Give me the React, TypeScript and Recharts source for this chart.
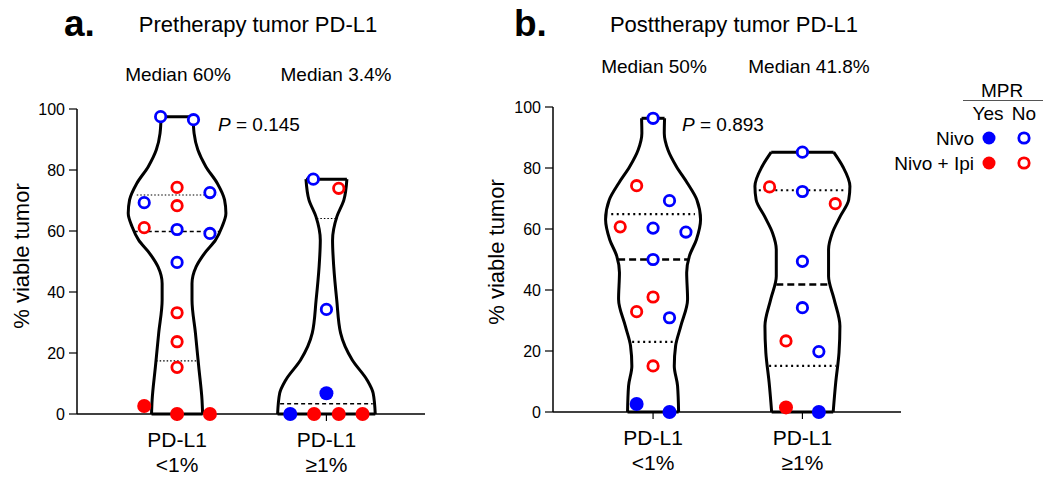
import React from 'react';
import { ComposedChart, XAxis, YAxis, Line, Scatter, ReferenceLine } from 'recharts';

const BLUE = '#0000ff';
const RED = '#ff0000';
const FONT = '"Liberation Sans", Arial, Helvetica, sans-serif';

const categoryLines = [
  ['PD-L1', '<1%'],
  ['PD-L1', '\u22651%'],
];

// ---- patient points (value, jitter lane, arm, MPR) ----
const preLowValues = [97.5, 96.5, 74.3, 72.6, 69.3, 68.3, 61.1, 60.5, 59.2, 49.7, 33.2, 23.7, 15.3, 2.6, 0, 0];
const preLowLanes = [-1, 1, 0, 2, -2, 0, -2, 0, 2, 0, 0, 0, 0, -2, 0, 2];
const preLowArms = ['Nivo', 'Nivo', 'Nivo + Ipi', 'Nivo', 'Nivo', 'Nivo + Ipi', 'Nivo + Ipi', 'Nivo', 'Nivo', 'Nivo', 'Nivo + Ipi', 'Nivo + Ipi', 'Nivo + Ipi', 'Nivo + Ipi', 'Nivo + Ipi', 'Nivo + Ipi'];
const preLowMpr = [false, false, false, false, false, false, false, false, false, false, false, false, false, true, true, true];

const preHighValues = [77.0, 74.0, 34.3, 6.8, 0, 0, 0, 0];
const preHighLanes = [-0.8, 0.75, 0, 0, -2.2, -0.75, 0.75, 2.2];
const preHighArms = ['Nivo', 'Nivo + Ipi', 'Nivo', 'Nivo', 'Nivo', 'Nivo + Ipi', 'Nivo + Ipi', 'Nivo + Ipi'];
const preHighMpr = [false, false, false, true, true, true, true, true];

const postLowValues = [96.3, 74.2, 69.3, 60.7, 60.3, 59.0, 50.0, 37.7, 32.9, 30.9, 15.1, 2.6, 0];
const postLowLanes = [0, -1, 1, -2, 0, 2, 0, 0, -1, 1, 0, -1, 1];
const postLowArms = ['Nivo', 'Nivo + Ipi', 'Nivo', 'Nivo + Ipi', 'Nivo', 'Nivo', 'Nivo', 'Nivo + Ipi', 'Nivo + Ipi', 'Nivo', 'Nivo + Ipi', 'Nivo', 'Nivo'];
const postLowMpr = [false, false, false, false, false, false, false, false, false, false, false, true, true];

const postHighValues = [85.2, 73.8, 72.3, 68.3, 49.4, 34.2, 23.3, 19.8, 1.5, 0];
const postHighLanes = [0, -2, 0, 2, 0, 0, -1, 1, -1, 1];
const postHighArms = ['Nivo', 'Nivo + Ipi', 'Nivo', 'Nivo + Ipi', 'Nivo', 'Nivo', 'Nivo + Ipi', 'Nivo', 'Nivo + Ipi', 'Nivo'];
const postHighMpr = [false, false, false, false, false, false, false, false, true, true];

// ---- violin outlines (level -> half width in category units) ----
const preLowLevels = [0, 4.6, 15.5, 26.5, 37.4, 42.8, 48.3, 52.7, 57.0, 61.4, 65.8, 70.2, 75.6, 81.1, 86.6, 92.0, 97.5];
const preLowWidths = [0.171, 0.167, 0.145, 0.123, 0.1, 0.1, 0.128, 0.184, 0.257, 0.301, 0.327, 0.318, 0.27, 0.193, 0.139, 0.114, 0.107];
const preHighLevels = [0, 6.8, 11.1, 17.7, 26.5, 37.4, 48.3, 57.0, 64.7, 70.2, 77.0];
const preHighWidths = [0.327, 0.313, 0.273, 0.173, 0.095, 0.069, 0.049, 0.041, 0.07, 0.117, 0.137];
const postLowLevels = [0, 8.6, 15.1, 21.7, 28.2, 37.0, 45.7, 51.1, 56.5, 63.1, 69.6, 75.1, 80.5, 85.9, 91.4, 96.3];
const postLowWidths = [0.171, 0.164, 0.142, 0.151, 0.186, 0.231, 0.225, 0.243, 0.29, 0.318, 0.293, 0.229, 0.156, 0.1, 0.075, 0.077];
const postHighLevels = [0, 9.7, 19.5, 28.2, 37.0, 44.5, 53.3, 58.7, 64.2, 69.6, 74.0, 80.5, 85.2];
const postHighWidths = [0.206, 0.223, 0.245, 0.251, 0.212, 0.175, 0.175, 0.2, 0.254, 0.31, 0.318, 0.27, 0.209];

// quartiles [Q1, median, Q3] and their half widths
const preLowQuartiles = [17.4, 59.85, 71.8];
const preLowQuartileWidths = [0.14, 0.29, 0.27];
const preHighQuartiles = [0, 3.4, 64.1];
const preHighQuartileWidths = [0.327, 0.31, 0.064];
const postLowQuartiles = [23.0, 50.0, 64.9];
const postLowQuartileWidths = [0.14, 0.234, 0.28];
const postHighQuartiles = [15.1, 41.8, 72.7];
const postHighQuartileWidths = [0.223, 0.175, 0.292];

const LANE = 0.11;

type Violin = {
  center: number;
  values: number[];
  lanes: number[];
  arms: string[];
  mpr: boolean[];
  levels: number[];
  widths: number[];
  quartiles: number[];
  quartileWidths: number[];
};

const preViolins: Violin[] = [
  { center: 1, values: preLowValues, lanes: preLowLanes, arms: preLowArms, mpr: preLowMpr, levels: preLowLevels, widths: preLowWidths, quartiles: preLowQuartiles, quartileWidths: preLowQuartileWidths },
  { center: 2, values: preHighValues, lanes: preHighLanes, arms: preHighArms, mpr: preHighMpr, levels: preHighLevels, widths: preHighWidths, quartiles: preHighQuartiles, quartileWidths: preHighQuartileWidths },
];
const postViolins: Violin[] = [
  { center: 1, values: postLowValues, lanes: postLowLanes, arms: postLowArms, mpr: postLowMpr, levels: postLowLevels, widths: postLowWidths, quartiles: postLowQuartiles, quartileWidths: postLowQuartileWidths },
  { center: 2, values: postHighValues, lanes: postHighLanes, arms: postHighArms, mpr: postHighMpr, levels: postHighLevels, widths: postHighWidths, quartiles: postHighQuartiles, quartileWidths: postHighQuartileWidths },
];

const pointsFor = (violins: Violin[], arm: string, mpr: boolean) =>
  violins.flatMap((v) =>
    v.values
      .map((y, i) => ({ x: v.center + v.lanes[i] * LANE, y, arm: v.arms[i], mpr: v.mpr[i] }))
      .filter((p) => p.arm === arm && p.mpr === mpr)
  );

const filledDot = (color: string) => (p: any) => <circle cx={p.cx} cy={p.cy} r={7} fill={color} />;
const openDot = (color: string) => (p: any) => (
  <circle cx={p.cx} cy={p.cy} r={5.2} fill="#fff" stroke={color} strokeWidth={2.8} />
);

const CategoryTick = (props: any) => {
  const { x, y, payload } = props;
  const lines = categoryLines[Math.round(payload.value) - 1] || ['', ''];
  return (
    <g>
      <text x={x} y={y + 24} textAnchor="middle" fontSize={21} fontFamily={FONT} fill="#000">{lines[0]}</text>
      <text x={x} y={y + 49} textAnchor="middle" fontSize={21} fontFamily={FONT} fill="#000">{lines[1]}</text>
    </g>
  );
};

type PanelProps = {
  violins: Violin[];
  width: number;
  top: number;
  rightMargin: number;
  heavyLines: boolean;
  children?: React.ReactNode;
};

function Panel({ violins, width, top, rightMargin, heavyLines, children }: PanelProps) {
  const dotted = heavyLines ? { strokeWidth: 2.2, strokeDasharray: '2 3.5' } : { strokeWidth: 1.2, strokeDasharray: '1.5 2' };
  const dashed = heavyLines ? { strokeWidth: 2.4, strokeDasharray: '7 4' } : { strokeWidth: 1.5, strokeDasharray: '4 3' };
  return (
    <ComposedChart width={width} height={482} margin={{ top, right: rightMargin, bottom: 0, left: 0 }}>
      <XAxis
        type="number"
        dataKey="x"
        domain={[0.33, 2.66]}
        ticks={[1, 2]}
        height={482 - top - 305}
        tickSize={7}
        tick={<CategoryTick />}
        axisLine={{ stroke: '#000', strokeWidth: 1.5 }}
        tickLine={{ stroke: '#000', strokeWidth: 1.2 }}
      />
      <YAxis
        type="number"
        dataKey="y"
        domain={[0, 100]}
        ticks={[0, 20, 40, 60, 80, 100]}
        width={77}
        tickSize={8}
        tickMargin={4}
        tick={{ fontSize: 16, fill: '#000', fontFamily: FONT }}
        axisLine={{ stroke: '#000', strokeWidth: 1.5 }}
        tickLine={{ stroke: '#000', strokeWidth: 1.2 }}
      />
      {violins.map((v, k) => (
        <Line
          key={`l${k}`}
          data={v.levels.map((y, i) => ({ x: v.center - v.widths[i], y }))}
          dataKey="y"
          type="monotoneY"
          stroke="#000"
          strokeWidth={3}
          dot={false}
          activeDot={false}
          isAnimationActive={false}
        />
      ))}
      {violins.map((v, k) => (
        <Line
          key={`r${k}`}
          data={v.levels.map((y, i) => ({ x: v.center + v.widths[i], y }))}
          dataKey="y"
          type="monotoneY"
          stroke="#000"
          strokeWidth={3}
          dot={false}
          activeDot={false}
          isAnimationActive={false}
        />
      ))}
      {violins.map((v, k) => {
        const n = v.levels.length - 1;
        return [
          <ReferenceLine
            key={`b${k}`}
            segment={[{ x: v.center - v.widths[0], y: v.levels[0] }, { x: v.center + v.widths[0], y: v.levels[0] }]}
            stroke="#000"
            strokeWidth={3}
            ifOverflow="visible"
          />,
          <ReferenceLine
            key={`t${k}`}
            segment={[{ x: v.center - v.widths[n], y: v.levels[n] }, { x: v.center + v.widths[n], y: v.levels[n] }]}
            stroke="#000"
            strokeWidth={3}
            ifOverflow="visible"
          />,
        ];
      })}
      {violins.map((v, k) =>
        v.quartiles.map((q, i) => (
          <ReferenceLine
            key={`q${k}-${i}`}
            segment={[{ x: v.center - v.quartileWidths[i], y: q }, { x: v.center + v.quartileWidths[i], y: q }]}
            stroke="#000"
            ifOverflow="visible"
            {...(i === 1 ? dashed : dotted)}
          />
        ))
      )}
      <Scatter data={pointsFor(violins, 'Nivo', false)} shape={openDot(BLUE)} isAnimationActive={false} />
      <Scatter data={pointsFor(violins, 'Nivo + Ipi', false)} shape={openDot(RED)} isAnimationActive={false} />
      <Scatter data={pointsFor(violins, 'Nivo', true)} shape={filledDot(BLUE)} isAnimationActive={false} />
      <Scatter data={pointsFor(violins, 'Nivo + Ipi', true)} shape={filledDot(RED)} isAnimationActive={false} />
      {children}
    </ComposedChart>
  );
}

const txt = { fontFamily: FONT, fill: '#000' };

export default function App() {
  return (
    <div style={{ position: 'absolute', left: 0, top: 0, width: 1050, height: 482, background: '#fff' }}>
      <div style={{ position: 'absolute', left: 0, top: 0 }}>
        <Panel violins={preViolins} width={476} top={109} rightMargin={51} heavyLines={false}>
          <text x={64} y={36} fontSize={37} fontWeight="bold" {...txt}>a.</text>
          <text x={258} y={32} fontSize={22} textAnchor="middle" {...txt}>Pretherapy tumor PD-L1</text>
          <text x={178} y={81} fontSize={19} textAnchor="middle" {...txt}>Median 60%</text>
          <text x={336} y={81} fontSize={19} textAnchor="middle" {...txt}>Median 3.4%</text>
          <text x={218} y={131} fontSize={19} {...txt}>
            <tspan fontStyle="italic">P</tspan> = 0.145
          </text>
          <text x={29} y={256} fontSize={22} textAnchor="middle" transform="rotate(-90 29 256)" {...txt}>% viable tumor</text>
        </Panel>
      </div>
      <div style={{ position: 'absolute', left: 476, top: 0 }}>
        <Panel violins={postViolins} width={574} top={107} rightMargin={149} heavyLines>
          <text x={38} y={36} fontSize={37} fontWeight="bold" {...txt}>b.</text>
          <text x={258} y={32} fontSize={22} textAnchor="middle" {...txt}>Posttherapy tumor PD-L1</text>
          <text x={178} y={73} fontSize={19} textAnchor="middle" {...txt}>Median 50%</text>
          <text x={333} y={73} fontSize={19} textAnchor="middle" {...txt}>Median 41.8%</text>
          <text x={206} y={131} fontSize={19} {...txt}>
            <tspan fontStyle="italic">P</tspan> = 0.893
          </text>
          <text x={28} y={252} fontSize={22} textAnchor="middle" transform="rotate(-90 28 252)" {...txt}>% viable tumor</text>
          {/* legend */}
          <g>
            <text x={526} y={97} fontSize={19} textAnchor="middle" {...txt}>MPR</text>
            <line x1={487} x2={567} y1={100.5} y2={100.5} stroke="#555" strokeWidth={1.2} />
            <text x={512} y={120} fontSize={19} textAnchor="middle" {...txt}>Yes</text>
            <text x={548} y={120} fontSize={19} textAnchor="middle" {...txt}>No</text>
            <text x={498} y={144.5} fontSize={19} textAnchor="end" {...txt}>Nivo</text>
            <circle cx={513} cy={138} r={6.5} fill={BLUE} />
            <circle cx={548} cy={138} r={5.2} fill="#fff" stroke={BLUE} strokeWidth={2.8} />
            <text x={498} y={169.5} fontSize={19} textAnchor="end" {...txt}>Nivo + Ipi</text>
            <circle cx={513} cy={163} r={6.5} fill={RED} />
            <circle cx={548} cy={163} r={5.2} fill="#fff" stroke={RED} strokeWidth={2.8} />
          </g>
        </Panel>
      </div>
    </div>
  );
}
